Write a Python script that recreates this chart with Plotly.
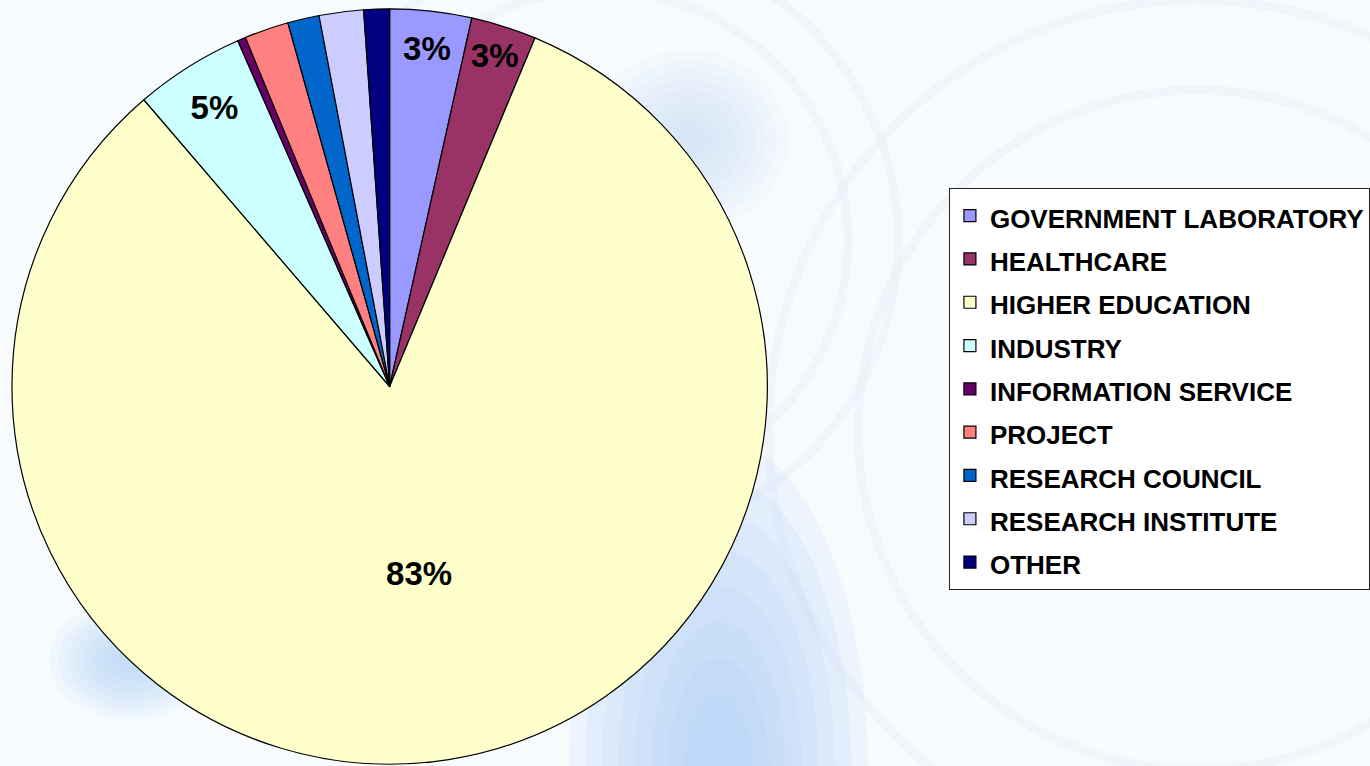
import plotly.graph_objects as go

categories = ["GOVERNMENT LABORATORY", "HEALTHCARE", "HIGHER EDUCATION", "INDUSTRY",
              "INFORMATION SERVICE", "PROJECT", "RESEARCH COUNCIL", "RESEARCH INSTITUTE", "OTHER"]
shares = [3.5, 2.8, 82.6, 4.7, 0.35, 1.9, 1.35, 1.9, 1.1]
slice_labels = ["3%", "3%", "83%", "5%", "", "", "", "", ""]
colors = ["#9999FF", "#993366", "#FFFFCC", "#CCFFFF", "#660066",
          "#FF8080", "#0066CC", "#CCCCFF", "#000080"]

W, H = 1370, 766
cx, cy_top, r = 390.5, 386.5, 378.5
cy = H - cy_top

legend_names = ['<span style="font-size:26px">%s</span>' % c for c in categories]

fig = go.Figure()
fig.add_trace(go.Pie(
    labels=legend_names,
    values=shares,
    text=slice_labels,
    textinfo="text",
    textposition="inside",
    insidetextorientation="horizontal",
    textfont=dict(family="Liberation Sans, Arial", size=33, color="black", weight="bold"),
    marker=dict(colors=colors, line=dict(color="black", width=1.2)),
    sort=False,
    direction="clockwise",
    rotation=0,
    domain=dict(x=[(cx - r) / W, (cx + r) / W], y=[(cy - r) / H, (cy + r) / H]),
    hoverinfo="percent",
))


def px_ellipse(x, y, rx, ry, **kw):
    return dict(type="circle", xref="paper", yref="paper",
                x0=(x - rx) / W, x1=(x + rx) / W,
                y0=1 - (y + ry) / H, y1=1 - (y - ry) / H, layer="below", **kw)


shapes = []
# very faint rings
for (x, y, rr) in [(600, 240, 250), (600, 240, 300), (1200, 430, 340), (1200, 430, 430)]:
    shapes.append(px_ellipse(x, y, rr, rr, fillcolor="rgba(0,0,0,0)",
                             line=dict(width=9, color="rgba(230,234,245,0.35)")))
# soft blue blobs (stacked translucent ellipses to fake a blur)
for k in range(8):
    f = 1 - k * 0.11
    shapes.append(px_ellipse(720, 770, 150 * f, 330 * f, fillcolor="#a9d0f5", opacity=0.14,
                             line=dict(width=0)))
    shapes.append(px_ellipse(690, 140, 100 * f, 90 * f, fillcolor="#b6d8f7", opacity=0.07,
                             line=dict(width=0)))
    shapes.append(px_ellipse(130, 660, 80 * f, 60 * f, fillcolor="#a9d0f5", opacity=0.10,
                             line=dict(width=0)))

fig.update_layout(
    width=W, height=H,
    margin=dict(l=0, r=0, t=0, b=0),
    paper_bgcolor="#f8fbfe",
    plot_bgcolor="#f8fbfe",
    shapes=shapes,
    showlegend=True,
    legend=dict(
        x=951 / W, y=1 - 188 / H, xanchor="left", yanchor="top",
        bgcolor="white", bordercolor="#222222", borderwidth=1,
        font=dict(family="Liberation Sans, Arial", size=31, color="black", weight="bold"),
        traceorder="normal",
    ),
)

fig.write_html("out.html", config={"displayModeBar": False},
               post_script="document.body.style.margin='0px';")
